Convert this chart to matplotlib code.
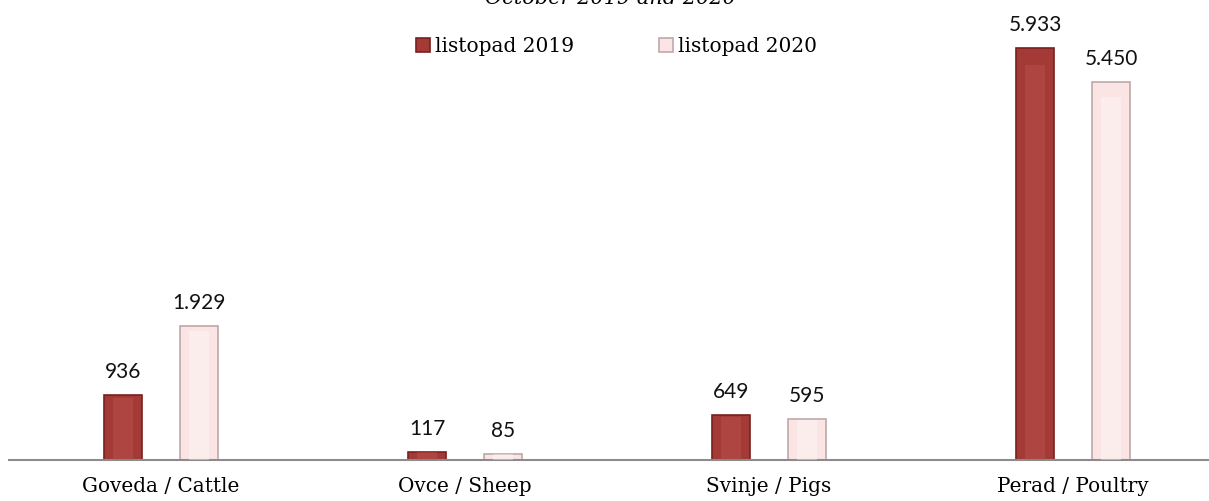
import matplotlib.pyplot as plt
import numpy as np

categories = ["Goveda / Cattle", "Ovce / Sheep", "Svinje / Pigs", "Perad / Poultry"]
series_names = ["listopad 2019", "listopad 2020"]
values_2019 = [936, 117, 649, 5933]
values_2020 = [1929, 85, 595, 5450]
title = "October 2019 and 2020"


def fmt(v):
    # thousands separator as dot
    return f"{v:,}".replace(",", ".")


W, H = 1209, 501
fig = plt.figure(figsize=(W / 100, H / 100), dpi=100)
ax = fig.add_axes([9 / W, 1 - 460 / H, 1216 / W, 460 / H])

x = np.arange(len(categories))
bw = 0.125
face = ["#a33a36", "#fbe4e4"]
edge = ["#7a2020", "#bfa9a9"]
hi = ["#c65a55", "#ffffff"]

for i, vals in enumerate([values_2019, values_2020]):
    pos = x + (i - 0.5) * 2 * bw
    ax.bar(pos, vals, width=bw, color=face[i], edgecolor=edge[i], linewidth=1.2,
           label=series_names[i], zorder=2)
    # soft bevel highlight
    ax.bar(pos, [v * 0.96 for v in vals], width=bw * 0.55, color=hi[i], alpha=0.35,
           linewidth=0, zorder=3)
    for p, v in zip(pos, vals):
        ax.text(p, v + 190, fmt(v), ha="center", va="bottom", fontsize=15,
                family="Lato", color="#111111")

ax.set_xlim(-0.5, 3.5)
ax.set_ylim(0, 460 / 0.0694)
for s in ["top", "right", "left"]:
    ax.spines[s].set_visible(False)
ax.spines["bottom"].set_color("#8c8c8c")
ax.spines["bottom"].set_linewidth(1.5)
ax.set_yticks([])
ax.set_xticks(x)
ax.set_xticklabels(categories, family="DejaVu Serif", fontsize=14.4)
ax.tick_params(axis="x", length=0, pad=12)

fig.text(610 / W, 1 + 1 / H, title, ha="center", va="center", fontsize=15,
         family="DejaVu Serif", style="italic")

ax.legend(loc="upper center", bbox_to_anchor=(0.5 - 0.5 / 1216, 1 - 19 / 460),
          ncol=2, frameon=False, handlelength=0.7, handleheight=0.7,
          handletextpad=0.25, columnspacing=4.2,
          prop={"family": "DejaVu Serif", "size": 14.5})

fig.savefig("out.png", dpi=100)
